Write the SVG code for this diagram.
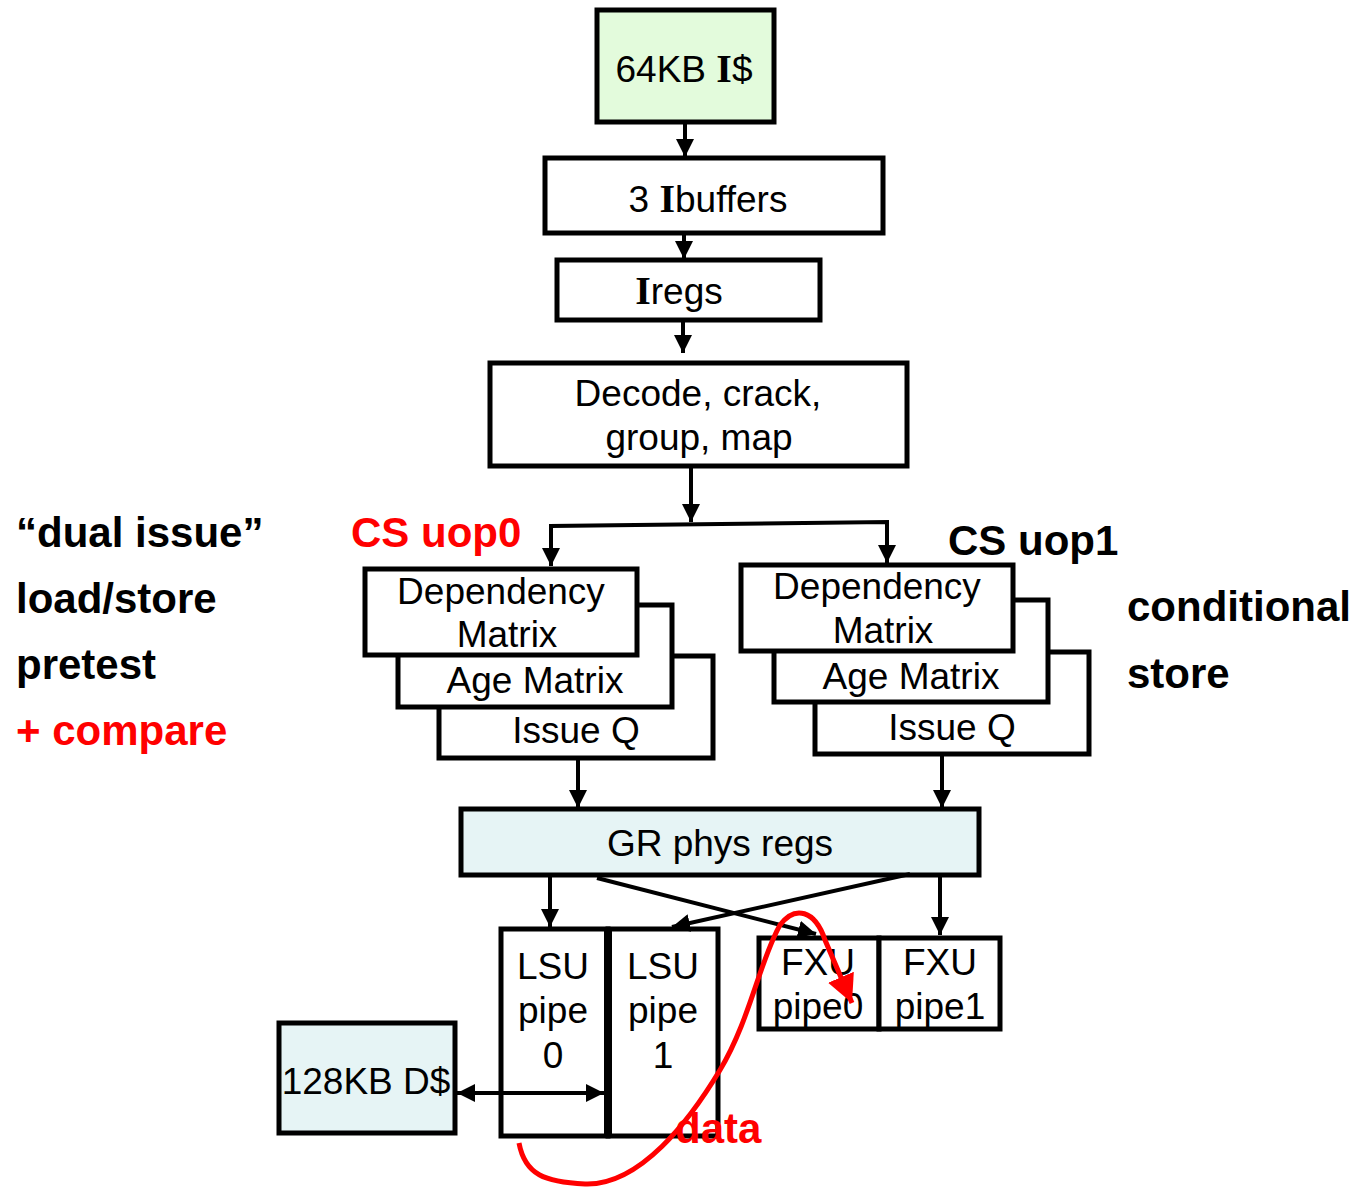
<svg xmlns="http://www.w3.org/2000/svg" width="1368" height="1187" viewBox="0 0 1368 1187">
<style>
.box{fill:#fff;stroke:#000;stroke-width:5}
.t{font-family:"Liberation Sans",Arial,sans-serif;font-size:37px;fill:#000;text-anchor:middle}
.s{font-family:"Liberation Serif","Times New Roman",serif;font-weight:bold;font-size:40px}
.lbl{font-family:"Liberation Sans",Arial,sans-serif;font-size:42px;font-weight:bold;fill:#000}
.red{fill:#f00}
.ln{stroke:#000;stroke-width:4;fill:none}
</style>
<defs>
<marker id="ah" markerUnits="userSpaceOnUse" markerWidth="18" markerHeight="18" refX="18" refY="9" orient="auto-start-reverse" viewBox="0 0 18 18">
<path d="M0,0 L18,9 L0,18 z" fill="#000"/>
</marker>
<marker id="rah" markerUnits="userSpaceOnUse" markerWidth="28" markerHeight="28" refX="26" refY="13" orient="auto" viewBox="0 0 26 26">
<path d="M0,0 L26,13 L0,26 z" fill="#f00"/>
</marker>
</defs>

<g id="icache">
<rect class="box" x="597" y="10" width="177" height="112" style="fill:#e3fbdc"/>
<text class="t" x="684" y="82">64KB <tspan class="s">I</tspan>$</text>
</g>
<g id="ibuffers">
<rect class="box" x="545" y="158" width="338" height="75"/>
<text class="t" x="708" y="212">3 <tspan class="s">I</tspan>buffers</text>
</g>
<g id="iregs">
<rect class="box" x="557" y="260" width="263" height="60"/>
<text class="t" x="679" y="304"><tspan class="s">I</tspan>regs</text>
</g>
<g id="decode">
<rect class="box" x="490" y="363" width="417" height="103"/>
<text class="t" x="698" y="406">Decode, crack,</text>
<text class="t" x="699" y="450">group, map</text>
</g>

<g id="stack0">
<rect class="box" x="439" y="656" width="274" height="102"/>
<rect class="box" x="398" y="605" width="274" height="102"/>
<rect class="box" x="365" y="569" width="272" height="86"/>
<text class="t" x="501" y="604">Dependency</text>
<text class="t" x="507" y="647">Matrix</text>
<text class="t" x="535" y="693">Age Matrix</text>
<text class="t" x="576" y="743">Issue Q</text>
</g>
<g id="stack1">
<rect class="box" x="815" y="652" width="274" height="102"/>
<rect class="box" x="774" y="600" width="274" height="102"/>
<rect class="box" x="741" y="565" width="272" height="86"/>
<text class="t" x="877" y="599">Dependency</text>
<text class="t" x="883" y="643">Matrix</text>
<text class="t" x="911" y="689">Age Matrix</text>
<text class="t" x="952" y="740">Issue Q</text>
</g>

<g id="grregs">
<rect class="box" x="461" y="809" width="518" height="66" style="fill:#e6f4f5"/>
<text class="t" x="720" y="856">GR phys regs</text>
</g>

<g id="lsu0">
<rect class="box" x="501" y="929" width="107" height="207"/>
<text class="t" x="553" y="979">LSU</text>
<text class="t" x="553" y="1023">pipe</text>
<text class="t" x="553" y="1068">0</text>
</g>
<g id="lsu1">
<rect class="box" x="608" y="929" width="110" height="207"/>
<line x1="608" y1="929" x2="608" y2="1136" stroke="#000" stroke-width="8"/>
<text class="t" x="663" y="979">LSU</text>
<text class="t" x="663" y="1023">pipe</text>
<text class="t" x="663" y="1068">1</text>
</g>
<g id="fxu0">
<rect class="box" x="759" y="938" width="120" height="91"/>
<text class="t" x="818" y="975">FXU</text>
<text class="t" x="818" y="1019">pipe0</text>
</g>
<g id="fxu1">
<rect class="box" x="879" y="938" width="121" height="91"/>
<text class="t" x="940" y="975">FXU</text>
<text class="t" x="940" y="1019">pipe1</text>
</g>
<g id="dcache">
<rect class="box" x="279" y="1023" width="176" height="110" style="fill:#e6f4f5"/>
<text class="t" x="366" y="1094">128KB D$</text>
</g>

<g id="connectors">
<line class="ln" x1="685" y1="122" x2="685" y2="157" marker-end="url(#ah)"/>
<line class="ln" x1="684" y1="233" x2="684" y2="259" marker-end="url(#ah)"/>
<line class="ln" x1="683" y1="320" x2="683" y2="353" marker-end="url(#ah)"/>
<line class="ln" x1="691" y1="466" x2="691" y2="522" marker-end="url(#ah)"/>
<polyline class="ln" points="551,545 551,526 887,522 887,527"/>
<line class="ln" x1="551" y1="540" x2="551" y2="566" marker-end="url(#ah)"/>
<line class="ln" x1="887" y1="526" x2="887" y2="563" marker-end="url(#ah)"/>
<line class="ln" x1="578" y1="758" x2="578" y2="808" marker-end="url(#ah)"/>
<line class="ln" x1="942" y1="755" x2="942" y2="808" marker-end="url(#ah)"/>
<line class="ln" x1="550" y1="875" x2="550" y2="927" marker-end="url(#ah)"/>
<line class="ln" x1="940" y1="875" x2="940" y2="935" marker-end="url(#ah)"/>
<line class="ln" x1="597" y1="878" x2="816" y2="934" marker-end="url(#ah)"/>
<line class="ln" x1="910" y1="874" x2="672" y2="927" marker-end="url(#ah)"/>
<line class="ln" x1="457" y1="1093" x2="604" y2="1093" marker-start="url(#ah)" marker-end="url(#ah)"/>
<path d="M519,1143 C525,1175 545,1182 585,1184 C640,1186 690,1120 720,1070 C750,1020 760,960 780,925 C795,905 815,910 825,940 L852,1003" fill="none" stroke="#f00" stroke-width="5" marker-end="url(#rah)"/>
</g>

<g id="labels">
<text class="lbl red" x="351" y="547">CS uop0</text>
<text class="lbl" x="948" y="555">CS uop1</text>
<text class="lbl" x="16" y="547">“dual issue”</text>
<text class="lbl" x="16" y="613">load/store</text>
<text class="lbl" x="16" y="679">pretest</text>
<text class="lbl red" x="16" y="745">+ compare</text>
<text class="lbl" x="1127" y="621">conditional</text>
<text class="lbl" x="1127" y="688">store</text>
<text class="lbl red" x="675" y="1143">data</text>
</g>
</svg>
